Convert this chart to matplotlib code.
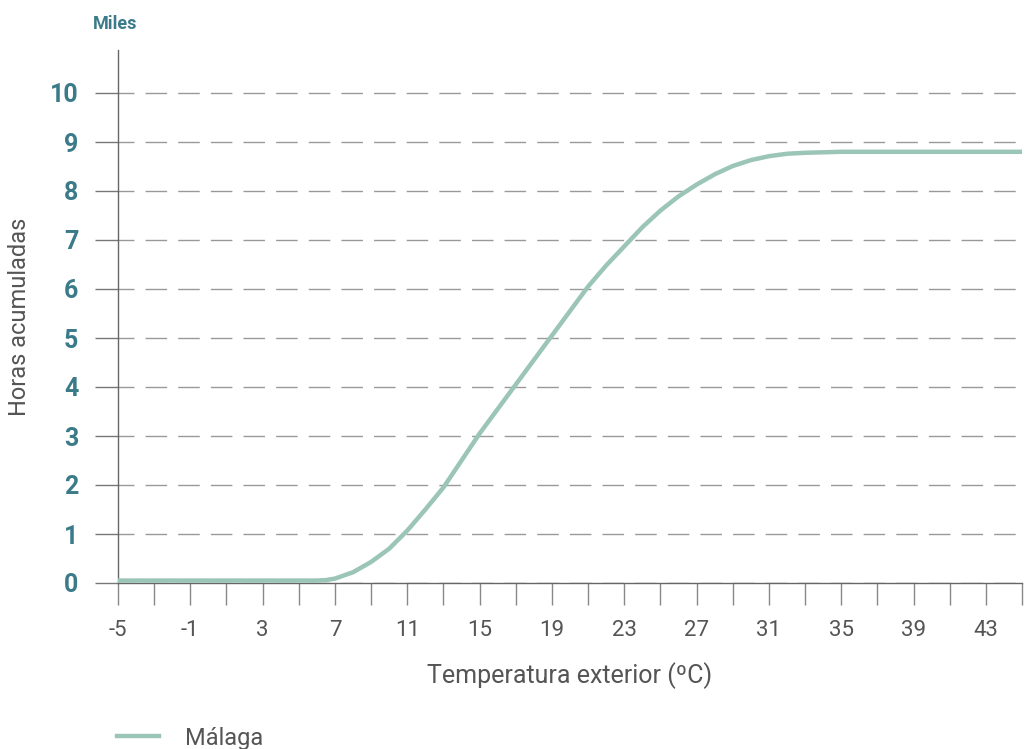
import matplotlib
matplotlib.use("Agg")
import matplotlib.pyplot as plt
from matplotlib.lines import Line2D

plt.rcParams['font.family'] = ['Roboto', 'DejaVu Sans']
plt.rcParams['lines.scale_dashes'] = False

# Data
temperatures = [-5, -4, -3, -2, -1, 0, 1, 2, 3, 4, 5, 6, 6.5, 7, 8, 9, 10, 11, 12, 13, 14,
                15, 16, 17, 18, 19, 20, 21, 22, 23, 24, 25, 26, 27, 28, 29, 30, 31, 32,
                33, 34, 35, 36, 37, 38, 39, 40, 41, 42, 43, 44, 45]
malaga = [0.05, 0.05, 0.05, 0.05, 0.05, 0.05, 0.05, 0.05, 0.05, 0.05, 0.05, 0.05, 0.06,
          0.09, 0.22, 0.43, 0.70, 1.07, 1.50, 1.95, 2.50, 3.05, 3.55, 4.05, 4.55, 5.05,
          5.55, 6.05, 6.48, 6.87, 7.26, 7.60, 7.89, 8.13, 8.34, 8.51, 8.63, 8.71, 8.76,
          8.78, 8.79, 8.80, 8.80, 8.80, 8.80, 8.80, 8.80, 8.80, 8.80, 8.80, 8.80, 8.80]
y_ticks = list(range(0, 11))
x_ticks = list(range(-5, 46, 2))
x_labels = [str(t) if (t + 5) % 4 == 0 else '' for t in x_ticks]

series_name = 'Málaga'
unit_label = 'Miles'
x_title = 'Temperatura exterior (ºC)'
y_title = 'Horas acumuladas'

teal = '#3b7b89'
grey_text = '#555555'
curve_color = '#9bc5b6'

fig = plt.figure(figsize=(10.25, 7.49), dpi=100)
ax = fig.add_axes([118/1025, 1 - 583/749, 904/1025, 533/749])

ax.plot(temperatures, malaga, color=curve_color, lw=3.2, solid_capstyle='butt',
        solid_joinstyle='round', zorder=3)

ax.set_xlim(-5, 45)
ax.set_ylim(0, 533/49)

ax.set_yticks(y_ticks)
ax.set_yticklabels([str(v) for v in y_ticks], fontsize=18, fontweight='bold', color=teal)
ax.set_xticks(x_ticks)
ax.set_xticklabels(x_labels, fontsize=16, color=grey_text)

ax.tick_params(axis='y', direction='out', length=16.5, width=1.0, color='#777777', pad=12)
ax.tick_params(axis='x', direction='out', length=16, width=1.0, color='#888888', pad=11)

for spine in ['top', 'right']:
    ax.spines[spine].set_visible(False)
for spine in ['left', 'bottom']:
    ax.spines[spine].set_color('#666666')
    ax.spines[spine].set_linewidth(1.0)

ax.yaxis.grid(True, color='#999999', lw=1.0, linestyle=(4, (15.5, 8.0)))
ax.xaxis.grid(False)
ax.set_axisbelow(True)

ax.set_xlabel(x_title, fontsize=18, color=grey_text, labelpad=15)
ax.set_ylabel(y_title, fontsize=17, color=grey_text)
ax.yaxis.set_label_coords(-0.096, 0.5)

fig.text(93/1025, 1 - 24/749, unit_label, fontsize=13, fontweight='bold', color=teal,
         ha='left', va='center')

# Legend
fig.add_artist(Line2D([117/1025, 159/1025], [1 - 736/749, 1 - 736/749], color=curve_color,
                      lw=3.2, transform=fig.transFigure))
fig.text(185/1025, 1 - 738/749, series_name, fontsize=17, color=grey_text, ha='left', va='center')

fig.savefig('out.png', dpi=100)
